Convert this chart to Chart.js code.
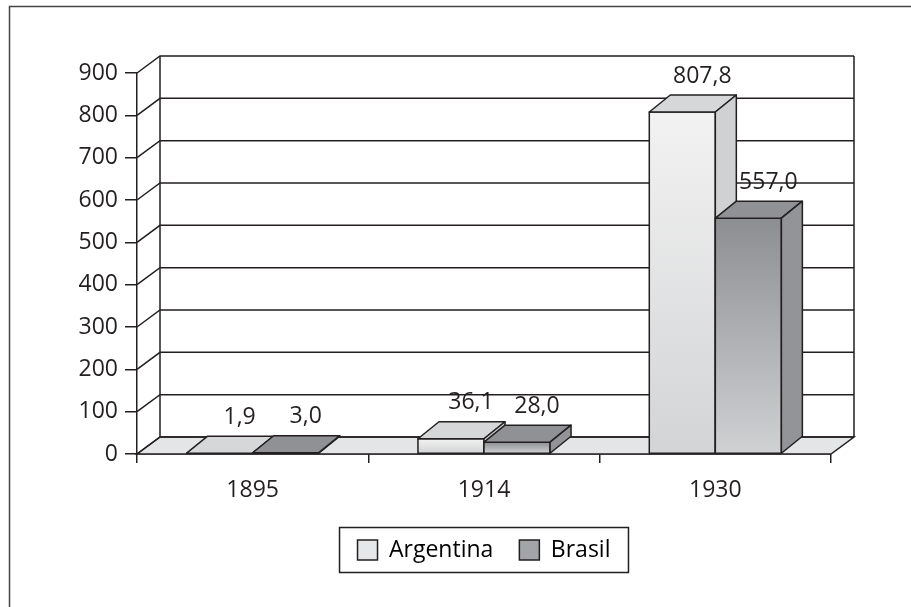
<!DOCTYPE html>
<html>
<head>
<meta charset="utf-8">
<script src="https://cdn.jsdelivr.net/npm/chart.js@4.4.0/dist/chart.umd.min.js"></script>
<style>
  body { margin: 0; background: #fff; }
  #grafica { display: block; }
</style>
</head>
<body>
<canvas id="grafica" width="911" height="607"></canvas>
<script>
// Datos de la gráfica
const anios = ['1895', '1914', '1930'];
const argentina = [1.9, 36.1, 807.8];
const brasil = [3.0, 28.0, 557.0];
const series = ['Argentina', 'Brasil'];
const yMin = 0;
const yMax = 900;
const yPaso = 100;

const tinta = '#231f20';
const fuente = '"Open Sans", "DejaVu Sans", sans-serif';
const muro = { dx: 23, dy: -17 };   // profundidad del fondo
const prof = { dx: 21, dy: -17 };   // profundidad de las barras

const colores = [
  { arriba: '#f2f2f2', abajo: '#d3d4d6', tapa: '#d6d7d9', lado: '#d0d1d3', leyenda: '#e6e7e8' },
  { arriba: '#8d8e91', abajo: '#d0d1d3', tapa: '#909194', lado: '#939497', leyenda: '#a3a4a7' }
];

function poligono(ctx, pts, relleno) {
  ctx.beginPath();
  ctx.moveTo(pts[0][0], pts[0][1]);
  for (let i = 1; i < pts.length; i++) ctx.lineTo(pts[i][0], pts[i][1]);
  ctx.closePath();
  if (relleno) { ctx.fillStyle = relleno; ctx.fill(); }
  ctx.stroke();
}

const efecto3d = {
  id: 'efecto3d',
  beforeDraw(chart) {
    const ctx = chart.ctx;
    ctx.save();
    ctx.fillStyle = '#fff';
    ctx.fillRect(0, 0, chart.width, chart.height);
    // marco exterior
    ctx.strokeStyle = '#444';
    ctx.lineWidth = 1.5;
    ctx.beginPath();
    ctx.moveTo(9.5, chart.height);
    ctx.lineTo(9.5, 6.5);
    ctx.lineTo(chart.width, 6.5);
    ctx.stroke();
    ctx.restore();
  },
  beforeDatasetsDraw(chart) {
    const ctx = chart.ctx;
    const a = chart.chartArea;
    const y = chart.scales.y;
    ctx.save();
    ctx.strokeStyle = tinta;
    ctx.lineWidth = 1.5;
    // piso
    const y0 = y.getPixelForValue(0);
    poligono(ctx, [[a.left, y0], [a.right, y0], [a.right + muro.dx, y0 + muro.dy], [a.left + muro.dx, y0 + muro.dy]], '#e4e5e6');
    // muro del fondo y diagonales
    for (let v = yMin; v <= yMax; v += yPaso) {
      const py = y.getPixelForValue(v);
      ctx.beginPath();
      ctx.moveTo(a.left, py);
      ctx.lineTo(a.left + muro.dx, py + muro.dy);
      ctx.lineTo(a.right + muro.dx, py + muro.dy);
      ctx.stroke();
    }
    const top = y.getPixelForValue(yMax) + muro.dy;
    ctx.beginPath();
    ctx.moveTo(a.left + muro.dx, top);
    ctx.lineTo(a.left + muro.dx, y0 + muro.dy);
    ctx.moveTo(a.right + muro.dx, top);
    ctx.lineTo(a.right + muro.dx, y0 + muro.dy);
    ctx.stroke();
    ctx.restore();
  },
  afterDatasetsDraw(chart) {
    const ctx = chart.ctx;
    ctx.save();
    ctx.strokeStyle = tinta;
    ctx.lineWidth = 1.5;
    ctx.lineJoin = 'round';
    const etiquetas = [];
    for (let i = 0; i < anios.length; i++) {
      chart.data.datasets.forEach((ds, d) => {
        const el = chart.getDatasetMeta(d).data[i];
        const c = colores[d];
        const l = el.x - el.width / 2;
        const r = el.x + el.width / 2;
        const t = el.y;
        const b = el.base;
        const grad = ctx.createLinearGradient(0, t, 0, b);
        grad.addColorStop(0, c.arriba);
        grad.addColorStop(1, c.abajo);
        poligono(ctx, [[l, t], [r, t], [r, b], [l, b]], grad);
        poligono(ctx, [[l, t], [r, t], [r + prof.dx, t + prof.dy], [l + prof.dx, t + prof.dy]], c.tapa);
        poligono(ctx, [[r, t], [r + prof.dx, t + prof.dy], [r + prof.dx, b + prof.dy], [r, b]], c.lado);
        etiquetas.push({ x: el.x + 20, y: t + prof.dy - 19, txt: ds.data[i].toFixed(1).replace('.', ',') });
      });
    }
    ctx.fillStyle = tinta;
    ctx.font = '23px ' + fuente;
    ctx.textAlign = 'center';
    ctx.textBaseline = 'middle';
    etiquetas.forEach(e => ctx.fillText(e.txt, e.x, e.y));
    ctx.restore();
  },
  afterDraw(chart) {
    const hb = chart.legend.legendHitBoxes;
    if (!hb || !hb.length) return;
    const ctx = chart.ctx;
    const izq = Math.min(...hb.map(h => h.left)) - 18;
    const der = Math.max(...hb.map(h => h.left + h.width)) + 18;
    const cy = hb[0].top + hb[0].height / 2;
    ctx.save();
    ctx.strokeStyle = tinta;
    ctx.lineWidth = 1.5;
    ctx.strokeRect(izq, cy - 22.5, der - izq, 45);
    ctx.restore();
  }
};

new Chart(document.getElementById('grafica'), {
  type: 'bar',
  data: {
    labels: anios,
    datasets: [
      { label: series[0], data: argentina, backgroundColor: 'rgba(0,0,0,0)', borderWidth: 0 },
      { label: series[1], data: brasil, backgroundColor: 'rgba(0,0,0,0)', borderWidth: 0 }
    ]
  },
  options: {
    responsive: false,
    animation: false,
    layout: { padding: { top: 73, right: 80, left: 0, bottom: 35.5 } },
    datasets: { bar: { categoryPercentage: 0.571, barPercentage: 1 } },
    scales: {
      y: {
        min: yMin,
        max: yMax,
        ticks: { stepSize: yPaso, color: tinta, font: { family: fuente, size: 23 }, padding: 7 },
        grid: { drawOnChartArea: false, tickLength: 12, color: tinta, lineWidth: 1.5 },
        border: { color: tinta, width: 1.5 },
        afterFit: s => { s.width = 137; }
      },
      x: {
        ticks: { color: tinta, font: { family: fuente, size: 23 }, padding: 14 },
        grid: { drawOnChartArea: false, tickLength: 9, color: tinta, lineWidth: 1.5, offset: true },
        border: { color: tinta, width: 1.5 },
        afterFit: s => { s.height = 58.5; }
      }
    },
    plugins: {
      tooltip: { enabled: false },
      legend: {
        position: 'bottom',
        fullSize: false,
        labels: {
          color: tinta,
          font: { family: fuente, size: 23 },
          boxWidth: 20,
          boxHeight: 20,
          padding: 26,
          generateLabels: chart => chart.data.datasets.map((ds, i) => ({
            text: ds.label,
            fillStyle: colores[i].leyenda,
            strokeStyle: tinta,
            lineWidth: 1.5,
            hidden: false,
            datasetIndex: i
          }))
        }
      }
    }
  },
  plugins: [efecto3d]
});
</script>
</body>
</html>
